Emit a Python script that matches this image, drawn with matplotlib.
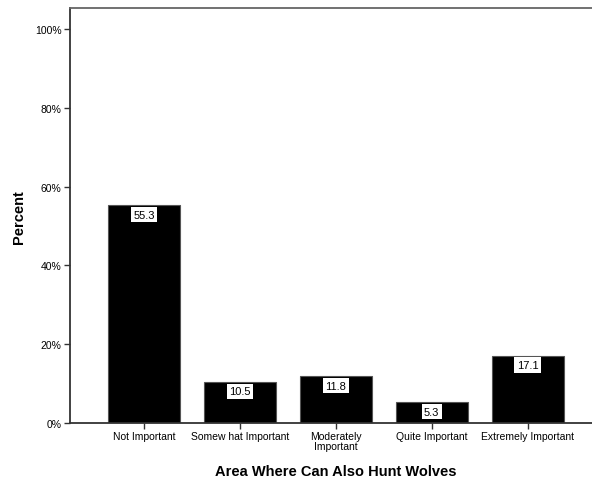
import matplotlib
matplotlib.use("Agg")
import matplotlib.pyplot as plt
import numpy as np

categories = ["Not Important", "Somew hat Important", "Moderately\nImportant",
              "Quite Important", "Extremely Important"]
values = [55.3, 10.5, 11.8, 5.3, 17.1]
yticks = [0, 20, 40, 60, 80, 100]

plt.rcParams['font.family'] = ['Liberation Sans', 'DejaVu Sans']

fig = plt.figure(figsize=(5.92, 4.81), dpi=100)
ax = fig.add_axes([70 / 592, 57 / 481, 522 / 592, 415 / 481])

x = np.arange(len(values))
ax.bar(x, values, width=0.75, color='black', edgecolor='#555555', linewidth=0.8)

for i, v in enumerate(values):
    ax.annotate("%.1f" % v, xy=(i, v), xytext=(0, -3.2), textcoords='offset points',
                ha='center', va='top', fontsize=8,
                bbox=dict(facecolor='white', edgecolor='none', pad=1.8))

ax.set_xlim(-0.77, 4.67)
ax.set_ylim(0, 105.3)
ax.set_yticks(yticks)
ax.set_yticklabels(["%d%%" % t for t in yticks])
ax.set_xticks(x)
ax.set_xticklabels(categories, linespacing=0.9)
ax.tick_params(axis='both', labelsize=7.5, length=4, width=1, color='#333333', pad=2)

for side in ['left', 'bottom']:
    ax.spines[side].set_color('#333333')
    ax.spines[side].set_linewidth(1.3)
ax.spines['top'].set_color('#666666')
ax.spines['top'].set_linewidth(1.3)
ax.spines['right'].set_visible(False)

ax.set_ylabel("Percent", fontsize=10.5, fontweight='bold')
ax.yaxis.set_label_coords((26 - 70) / 522, (424 - 217) / 415)
ax.set_xlabel("Area Where Can Also Hunt Wolves", fontsize=10.5, fontweight='bold')
ax.xaxis.set_label_coords((336 - 70) / 522, -(465 - 424) / 415)

fig.savefig("out.png", dpi=100)
